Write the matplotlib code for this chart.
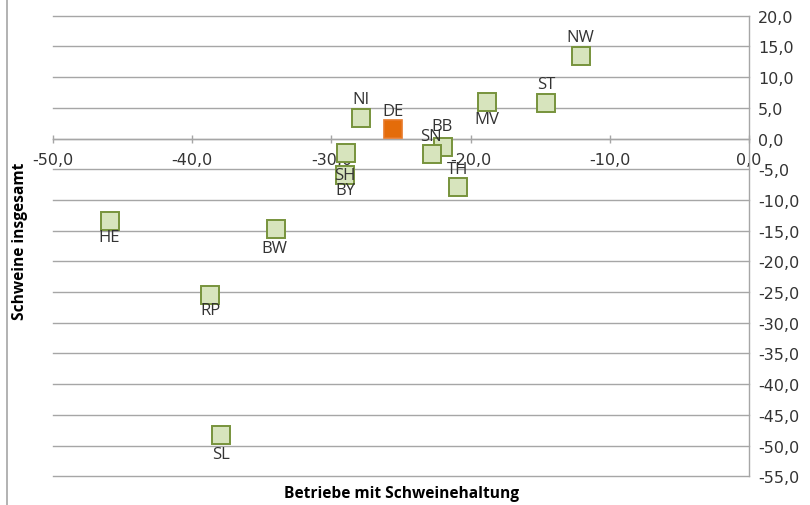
import matplotlib
matplotlib.use("Agg")
import matplotlib.pyplot as plt
from matplotlib.ticker import FuncFormatter, MultipleLocator
from matplotlib.lines import Line2D

# ---- data ----
labels = ["NW", "ST", "MV", "NI", "BB", "SN", "TH", "SH", "BY", "HE", "BW", "RP", "SL"]
betriebe = [-12.1, -14.6, -18.8, -27.9, -22.0, -22.8, -20.9, -28.95, -29.0, -45.9, -34.0, -38.7, -37.9]
schweine = [13.5, 5.75, 6.0, 3.4, -1.35, -2.55, -7.9, -2.3, -6.0, -13.4, -14.8, -25.5, -48.3]
de_label = "DE"
de_betriebe = -25.6
de_schweine = 1.6

xlabel = "Betriebe mit Schweinehaltung"
ylabel = "Schweine insgesamt"

# label offsets in pixels (dx, dy; positive dy = upward)
label_offsets = {
    "NW": (0, 19), "ST": (0, 19), "MV": (0, -17), "NI": (0, 18.5), "DE": (0, 18),
    "BB": (-1, 21), "SN": (-1, 18.5), "TH": (-1, 18.5), "SH": (-1, -22.5), "BY": (0, -15),
    "HE": (-1, -16.5), "BW": (-1, -19), "RP": (0, -15), "SL": (0, -18.5),
}

plt.rcParams['font.family'] = ['Open Sans', 'DejaVu Sans']
tick_font = ['DejaVu Sans']
text_color = "#333333"
grid_color = "#A6A6A6"

W, H = 810, 506
fig = plt.figure(figsize=(W / 100, H / 100), dpi=100)
left, right, top, bottom = 53, 749, 16.7, 477.3
ax = fig.add_axes([left / W, 1 - bottom / H, (right - left) / W, (bottom - top) / H])

ax.plot(betriebe, schweine, linestyle="none", marker="s", markersize=13.2,
        markerfacecolor="#D7E4BD", markeredgecolor="#77933C", markeredgewidth=1.4, zorder=3)
ax.plot([de_betriebe], [de_schweine], linestyle="none", marker="s", markersize=13.2,
        markerfacecolor="#E46C0A", markeredgecolor="#E87A2A", markeredgewidth=1.2, zorder=3)

px2pt = 72 / 100
for lab, x, y in list(zip(labels, betriebe, schweine)) + [(de_label, de_betriebe, de_schweine)]:
    dx, dy = label_offsets[lab]
    ax.annotate(lab, (x, y), xytext=(dx * px2pt, dy * px2pt), textcoords="offset points",
                ha="center", va="center", fontsize=12, color=text_color, zorder=4)

ax.set_xlim(-50, 0)
ax.set_ylim(-55, 20)
ax.xaxis.set_major_locator(MultipleLocator(10))
ax.yaxis.set_major_locator(MultipleLocator(5))
fmt = FuncFormatter(lambda v, p: f"{v:.1f}".replace(".", ",").replace("\u2212", "-"))
ax.xaxis.set_major_formatter(fmt)
ax.yaxis.set_major_formatter(fmt)

ax.yaxis.grid(True, color=grid_color, linewidth=1.0)
ax.set_axisbelow(True)
for gl in ax.get_ygridlines():
    gl.set_clip_on(False)

for s in ["left", "top"]:
    ax.spines[s].set_visible(False)
ax.spines["bottom"].set_position(("data", 0))
ax.spines["bottom"].set_color(grid_color)
ax.spines["right"].set_color(grid_color)
ax.spines["bottom"].set_linewidth(1.0)
ax.spines["right"].set_linewidth(1.0)

ax.yaxis.tick_right()
ax.tick_params(axis="y", length=0, pad=6.5, labelsize=11.5, labelcolor=text_color)
ax.tick_params(axis="x", direction="inout", length=5.8, width=1.0, color=grid_color,
               pad=6.5, labelsize=11.5, labelcolor=text_color)
for t in ax.get_xticklabels() + ax.get_yticklabels():
    t.set_family(tick_font)

fig.text(401 / W, 1 - 494 / H, xlabel, ha="center", va="center", fontsize=11.2,
         fontweight="bold", color="black")
fig.text(20 / W, 1 - 241 / H, ylabel, ha="center", va="center", rotation=90,
         fontsize=11.2, fontweight="bold", color="black")

fig.add_artist(Line2D([6.5 / W, 6.5 / W], [0, 1], color=grid_color, linewidth=1.2))

fig.savefig("out.png", dpi=100)
